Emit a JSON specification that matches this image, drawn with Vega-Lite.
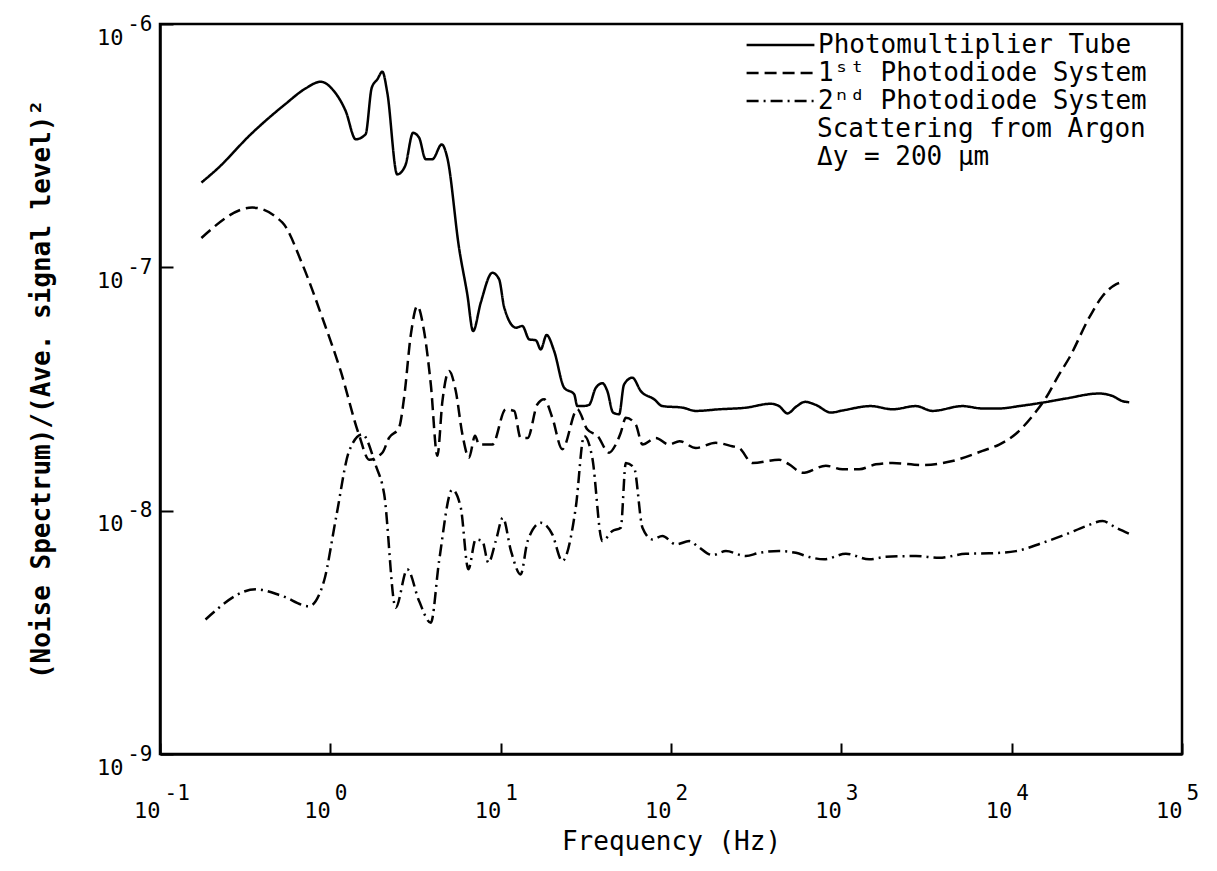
{
"$schema": "https://vega.github.io/schema/vega-lite/v6.json",
"width": 1022, "height": 730,
"autosize": "none",
"padding": {"left": 160, "top": 24, "right": 35, "bottom": 117},
"background": "white",
"config": {
  "font": "DejaVu Sans Mono",
  "view": {"stroke": "black", "strokeWidth": 2.5},
  "axis": {"domainColor": "black", "domainWidth": 2.5, "tickColor": "black", "tickWidth": 2, "labelColor": "black", "titleColor": "black", "grid": false, "labelFont": "DejaVu Sans Mono", "titleFont": "DejaVu Sans Mono", "titleFontWeight": "normal", "labelOverlap": false, "labelFlush": false, "labelBound": false}
},
"datasets": {
"spectra": [
{"series":"Photomultiplier Tube","f":0.175,"v":2.23e-7},
{"series":"Photomultiplier Tube","f":0.217,"v":2.54e-7},
{"series":"Photomultiplier Tube","f":0.341,"v":3.52e-7},
{"series":"Photomultiplier Tube","f":0.547,"v":4.70e-7},
{"series":"Photomultiplier Tube","f":0.717,"v":5.44e-7},
{"series":"Photomultiplier Tube","f":0.878,"v":5.79e-7},
{"series":"Photomultiplier Tube","f":1.05,"v":5.30e-7},
{"series":"Photomultiplier Tube","f":1.23,"v":4.39e-7},
{"series":"Photomultiplier Tube","f":1.41,"v":3.36e-7},
{"series":"Photomultiplier Tube","f":1.61,"v":3.52e-7},
{"series":"Photomultiplier Tube","f":1.75,"v":5.47e-7},
{"series":"Photomultiplier Tube","f":1.89,"v":5.93e-7},
{"series":"Photomultiplier Tube","f":2.02,"v":6.37e-7},
{"series":"Photomultiplier Tube","f":2.16,"v":5.22e-7},
{"series":"Photomultiplier Tube","f":2.47,"v":2.41e-7},
{"series":"Photomultiplier Tube","f":2.75,"v":2.61e-7},
{"series":"Photomultiplier Tube","f":3.06,"v":3.57e-7},
{"series":"Photomultiplier Tube","f":3.32,"v":3.41e-7},
{"series":"Photomultiplier Tube","f":3.63,"v":2.78e-7},
{"series":"Photomultiplier Tube","f":3.97,"v":2.78e-7},
{"series":"Photomultiplier Tube","f":4.51,"v":3.20e-7},
{"series":"Photomultiplier Tube","f":4.86,"v":2.82e-7},
{"series":"Photomultiplier Tube","f":5.70,"v":1.20e-7},
{"series":"Photomultiplier Tube","f":6.37,"v":7.74e-8},
{"series":"Photomultiplier Tube","f":6.89,"v":5.47e-8},
{"series":"Photomultiplier Tube","f":7.64,"v":7.16e-8},
{"series":"Photomultiplier Tube","f":8.94,"v":9.50e-8},
{"series":"Photomultiplier Tube","f":9.79,"v":8.93e-8},
{"series":"Photomultiplier Tube","f":10.5,"v":6.82e-8},
{"series":"Photomultiplier Tube","f":12.3,"v":5.65e-8},
{"series":"Photomultiplier Tube","f":13.4,"v":5.74e-8},
{"series":"Photomultiplier Tube","f":14.7,"v":5.06e-8},
{"series":"Photomultiplier Tube","f":16.1,"v":5.01e-8},
{"series":"Photomultiplier Tube","f":17.2,"v":4.60e-8},
{"series":"Photomultiplier Tube","f":18.6,"v":5.27e-8},
{"series":"Photomultiplier Tube","f":20.6,"v":4.53e-8},
{"series":"Photomultiplier Tube","f":23.6,"v":3.20e-8},
{"series":"Photomultiplier Tube","f":27.0,"v":3.01e-8},
{"series":"Photomultiplier Tube","f":28.2,"v":2.69e-8},
{"series":"Photomultiplier Tube","f":30.2,"v":2.69e-8},
{"series":"Photomultiplier Tube","f":33.0,"v":2.72e-8},
{"series":"Photomultiplier Tube","f":36.2,"v":3.20e-8},
{"series":"Photomultiplier Tube","f":39.5,"v":3.34e-8},
{"series":"Photomultiplier Tube","f":42.3,"v":3.10e-8},
{"series":"Photomultiplier Tube","f":45.7,"v":2.53e-8},
{"series":"Photomultiplier Tube","f":49.6,"v":2.49e-8},
{"series":"Photomultiplier Tube","f":53.0,"v":3.30e-8},
{"series":"Photomultiplier Tube","f":59.3,"v":3.52e-8},
{"series":"Photomultiplier Tube","f":66.5,"v":3.10e-8},
{"series":"Photomultiplier Tube","f":79.6,"v":2.87e-8},
{"series":"Photomultiplier Tube","f":89.0,"v":2.69e-8},
{"series":"Photomultiplier Tube","f":117,"v":2.65e-8},
{"series":"Photomultiplier Tube","f":140,"v":2.57e-8},
{"series":"Photomultiplier Tube","f":192,"v":2.61e-8},
{"series":"Photomultiplier Tube","f":275,"v":2.65e-8},
{"series":"Photomultiplier Tube","f":385,"v":2.75e-8},
{"series":"Photomultiplier Tube","f":431,"v":2.69e-8},
{"series":"Photomultiplier Tube","f":483,"v":2.51e-8},
{"series":"Photomultiplier Tube","f":541,"v":2.67e-8},
{"series":"Photomultiplier Tube","f":613,"v":2.80e-8},
{"series":"Photomultiplier Tube","f":709,"v":2.72e-8},
{"series":"Photomultiplier Tube","f":868,"v":2.53e-8},
{"series":"Photomultiplier Tube","f":1015,"v":2.58e-8},
{"series":"Photomultiplier Tube","f":1490,"v":2.69e-8},
{"series":"Photomultiplier Tube","f":1995,"v":2.61e-8},
{"series":"Photomultiplier Tube","f":2740,"v":2.69e-8},
{"series":"Photomultiplier Tube","f":3430,"v":2.57e-8},
{"series":"Photomultiplier Tube","f":5140,"v":2.69e-8},
{"series":"Photomultiplier Tube","f":6740,"v":2.63e-8},
{"series":"Photomultiplier Tube","f":8450,"v":2.63e-8},
{"series":"Photomultiplier Tube","f":11070,"v":2.69e-8},
{"series":"Photomultiplier Tube","f":15200,"v":2.78e-8},
{"series":"Photomultiplier Tube","f":20800,"v":2.89e-8},
{"series":"Photomultiplier Tube","f":32600,"v":3.03e-8},
{"series":"Photomultiplier Tube","f":39100,"v":2.96e-8},
{"series":"Photomultiplier Tube","f":44700,"v":2.82e-8},
{"series":"Photomultiplier Tube","f":49000,"v":2.79e-8},
{"series":"1ˢᵗ Photodiode System","f":0.175,"v":1.32e-7},
{"series":"1ˢᵗ Photodiode System","f":0.348,"v":1.76e-7},
{"series":"1ˢᵗ Photodiode System","f":0.522,"v":1.53e-7},
{"series":"1ˢᵗ Photodiode System","f":0.685,"v":1.03e-7},
{"series":"1ˢᵗ Photodiode System","f":0.897,"v":6.21e-8},
{"series":"1ˢᵗ Photodiode System","f":1.15,"v":3.75e-8},
{"series":"1ˢᵗ Photodiode System","f":1.47,"v":2.06e-8},
{"series":"1ˢᵗ Photodiode System","f":1.69,"v":1.62e-8},
{"series":"1ˢᵗ Photodiode System","f":2.02,"v":1.73e-8},
{"series":"1ˢᵗ Photodiode System","f":2.21,"v":1.99e-8},
{"series":"1ˢᵗ Photodiode System","f":2.53,"v":2.19e-8},
{"series":"1ˢᵗ Photodiode System","f":2.71,"v":2.91e-8},
{"series":"1ˢᵗ Photodiode System","f":2.97,"v":5.30e-8},
{"series":"1ˢᵗ Photodiode System","f":3.24,"v":6.93e-8},
{"series":"1ˢᵗ Photodiode System","f":3.55,"v":5.47e-8},
{"series":"1ˢᵗ Photodiode System","f":3.89,"v":3.30e-8},
{"series":"1ˢᵗ Photodiode System","f":4.25,"v":1.68e-8},
{"series":"1ˢᵗ Photodiode System","f":4.55,"v":2.82e-8},
{"series":"1ˢᵗ Photodiode System","f":4.98,"v":3.75e-8},
{"series":"1ˢᵗ Photodiode System","f":5.45,"v":3.10e-8},
{"series":"1ˢᵗ Photodiode System","f":5.96,"v":2.06e-8},
{"series":"1ˢᵗ Photodiode System","f":6.52,"v":1.65e-8},
{"series":"1ˢᵗ Photodiode System","f":7.07,"v":2.03e-8},
{"series":"1ˢᵗ Photodiode System","f":7.47,"v":1.87e-8},
{"series":"1ˢᵗ Photodiode System","f":8.94,"v":1.87e-8},
{"series":"1ˢᵗ Photodiode System","f":10.7,"v":2.61e-8},
{"series":"1ˢᵗ Photodiode System","f":12.0,"v":2.57e-8},
{"series":"1ˢᵗ Photodiode System","f":13.1,"v":1.99e-8},
{"series":"1ˢᵗ Photodiode System","f":14.4,"v":1.99e-8},
{"series":"1ˢᵗ Photodiode System","f":16.4,"v":2.73e-8},
{"series":"1ˢᵗ Photodiode System","f":18.0,"v":2.87e-8},
{"series":"1ˢᵗ Photodiode System","f":20.1,"v":2.41e-8},
{"series":"1ˢᵗ Photodiode System","f":23.0,"v":1.79e-8},
{"series":"1ˢᵗ Photodiode System","f":28.2,"v":2.61e-8},
{"series":"1ˢᵗ Photodiode System","f":32.2,"v":2.16e-8},
{"series":"1ˢᵗ Photodiode System","f":37.0,"v":2.03e-8},
{"series":"1ˢᵗ Photodiode System","f":43.3,"v":1.73e-8},
{"series":"1ˢᵗ Photodiode System","f":47.4,"v":1.87e-8},
{"series":"1ˢᵗ Photodiode System","f":50.7,"v":2.09e-8},
{"series":"1ˢᵗ Photodiode System","f":54.3,"v":2.41e-8},
{"series":"1ˢᵗ Photodiode System","f":62.1,"v":2.26e-8},
{"series":"1ˢᵗ Photodiode System","f":68.0,"v":1.87e-8},
{"series":"1ˢᵗ Photodiode System","f":81.4,"v":1.99e-8},
{"series":"1ˢᵗ Photodiode System","f":97.4,"v":1.87e-8},
{"series":"1ˢᵗ Photodiode System","f":112,"v":1.93e-8},
{"series":"1ˢᵗ Photodiode System","f":140,"v":1.81e-8},
{"series":"1ˢᵗ Photodiode System","f":183,"v":1.90e-8},
{"series":"1ˢᵗ Photodiode System","f":229,"v":1.84e-8},
{"series":"1ˢᵗ Photodiode System","f":251,"v":1.81e-8},
{"series":"1ˢᵗ Photodiode System","f":301,"v":1.57e-8},
{"series":"1ˢᵗ Photodiode System","f":431,"v":1.62e-8},
{"series":"1ˢᵗ Photodiode System","f":494,"v":1.55e-8},
{"series":"1ˢᵗ Photodiode System","f":591,"v":1.43e-8},
{"series":"1ˢᵗ Photodiode System","f":811,"v":1.53e-8},
{"series":"1ˢᵗ Photodiode System","f":1015,"v":1.48e-8},
{"series":"1ˢᵗ Photodiode System","f":1272,"v":1.48e-8},
{"series":"1ˢᵗ Photodiode System","f":1594,"v":1.55e-8},
{"series":"1ˢᵗ Photodiode System","f":1995,"v":1.57e-8},
{"series":"1ˢᵗ Photodiode System","f":2993,"v":1.54e-8},
{"series":"1ˢᵗ Photodiode System","f":4490,"v":1.60e-8},
{"series":"1ˢᵗ Photodiode System","f":6740,"v":1.76e-8},
{"series":"1ˢᵗ Photodiode System","f":8450,"v":1.87e-8},
{"series":"1ˢᵗ Photodiode System","f":10600,"v":2.07e-8},
{"series":"1ˢᵗ Photodiode System","f":13250,"v":2.45e-8},
{"series":"1ˢᵗ Photodiode System","f":15900,"v":2.91e-8},
{"series":"1ˢᵗ Photodiode System","f":19000,"v":3.63e-8},
{"series":"1ˢᵗ Photodiode System","f":21800,"v":4.25e-8},
{"series":"1ˢᵗ Photodiode System","f":28500,"v":6.21e-8},
{"series":"1ˢᵗ Photodiode System","f":34200,"v":7.62e-8},
{"series":"1ˢᵗ Photodiode System","f":40900,"v":8.51e-8},
{"series":"1ˢᵗ Photodiode System","f":45800,"v":8.73e-8},
{"series":"2ⁿᵈ Photodiode System","f":0.185,"v":3.57e-9},
{"series":"2ⁿᵈ Photodiode System","f":0.365,"v":4.75e-9},
{"series":"2ⁿᵈ Photodiode System","f":0.522,"v":4.46e-9},
{"series":"2ⁿᵈ Photodiode System","f":0.750,"v":4.05e-9},
{"series":"2ⁿᵈ Photodiode System","f":0.918,"v":5.14e-9},
{"series":"2ⁿᵈ Photodiode System","f":1.08,"v":9.35e-9},
{"series":"2ⁿᵈ Photodiode System","f":1.29,"v":1.76e-8},
{"series":"2ⁿᵈ Photodiode System","f":1.54,"v":2.06e-8},
{"series":"2ⁿᵈ Photodiode System","f":1.85,"v":1.53e-8},
{"series":"2ⁿᵈ Photodiode System","f":2.07,"v":1.17e-8},
{"series":"2ⁿᵈ Photodiode System","f":2.42,"v":3.99e-9},
{"series":"2ⁿᵈ Photodiode System","f":2.83,"v":5.74e-9},
{"series":"2ⁿᵈ Photodiode System","f":3.32,"v":4.25e-9},
{"series":"2ⁿᵈ Photodiode System","f":3.89,"v":3.46e-9},
{"series":"2ⁿᵈ Photodiode System","f":4.35,"v":6.21e-9},
{"series":"2ⁿᵈ Photodiode System","f":5.20,"v":1.22e-8},
{"series":"2ⁿᵈ Photodiode System","f":5.83,"v":1.03e-8},
{"series":"2ⁿᵈ Photodiode System","f":6.46,"v":5.74e-9},
{"series":"2ⁿᵈ Photodiode System","f":7.14,"v":7.62e-9},
{"series":"2ⁿᵈ Photodiode System","f":7.81,"v":7.50e-9},
{"series":"2ⁿᵈ Photodiode System","f":8.47,"v":6.11e-9},
{"series":"2ⁿᵈ Photodiode System","f":9.36,"v":7.50e-9},
{"series":"2ⁿᵈ Photodiode System","f":10.3,"v":9.35e-9},
{"series":"2ⁿᵈ Photodiode System","f":11.5,"v":6.82e-9},
{"series":"2ⁿᵈ Photodiode System","f":13.1,"v":5.47e-9},
{"series":"2ⁿᵈ Photodiode System","f":14.4,"v":7.50e-9},
{"series":"2ⁿᵈ Photodiode System","f":17.2,"v":8.92e-9},
{"series":"2ⁿᵈ Photodiode System","f":20.1,"v":7.99e-9},
{"series":"2ⁿᵈ Photodiode System","f":23.0,"v":6.21e-9},
{"series":"2ⁿᵈ Photodiode System","f":27.6,"v":1.03e-8},
{"series":"2ⁿᵈ Photodiode System","f":30.9,"v":2.03e-8},
{"series":"2ⁿᵈ Photodiode System","f":34.5,"v":1.65e-8},
{"series":"2ⁿᵈ Photodiode System","f":39.5,"v":7.50e-9},
{"series":"2ⁿᵈ Photodiode System","f":45.3,"v":8.25e-9},
{"series":"2ⁿᵈ Photodiode System","f":50.7,"v":8.51e-9},
{"series":"2ⁿᵈ Photodiode System","f":54.3,"v":1.57e-8},
{"series":"2ⁿᵈ Photodiode System","f":60.7,"v":1.50e-8},
{"series":"2ⁿᵈ Photodiode System","f":68.0,"v":8.51e-9},
{"series":"2ⁿᵈ Photodiode System","f":77.8,"v":7.62e-9},
{"series":"2ⁿᵈ Photodiode System","f":89.0,"v":7.86e-9},
{"series":"2ⁿᵈ Photodiode System","f":107,"v":7.27e-9},
{"series":"2ⁿᵈ Photodiode System","f":128,"v":7.50e-9},
{"series":"2ⁿᵈ Photodiode System","f":143,"v":7.15e-9},
{"series":"2ⁿᵈ Photodiode System","f":175,"v":6.57e-9},
{"series":"2ⁿᵈ Photodiode System","f":210,"v":6.82e-9},
{"series":"2ⁿᵈ Photodiode System","f":275,"v":6.51e-9},
{"series":"2ⁿᵈ Photodiode System","f":329,"v":6.71e-9},
{"series":"2ⁿᵈ Photodiode System","f":431,"v":6.82e-9},
{"series":"2ⁿᵈ Photodiode System","f":541,"v":6.71e-9},
{"series":"2ⁿᵈ Photodiode System","f":647,"v":6.45e-9},
{"series":"2ⁿᵈ Photodiode System","f":792,"v":6.31e-9},
{"series":"2ⁿᵈ Photodiode System","f":1063,"v":6.65e-9},
{"series":"2ⁿᵈ Photodiode System","f":1457,"v":6.31e-9},
{"series":"2ⁿᵈ Photodiode System","f":1825,"v":6.46e-9},
{"series":"2ⁿᵈ Photodiode System","f":2740,"v":6.51e-9},
{"series":"2ⁿᵈ Photodiode System","f":3750,"v":6.40e-9},
{"series":"2ⁿᵈ Photodiode System","f":5380,"v":6.65e-9},
{"series":"2ⁿᵈ Photodiode System","f":7380,"v":6.68e-9},
{"series":"2ⁿᵈ Photodiode System","f":10600,"v":6.82e-9},
{"series":"2ⁿᵈ Photodiode System","f":15200,"v":7.38e-9},
{"series":"2ⁿᵈ Photodiode System","f":20800,"v":7.99e-9},
{"series":"2ⁿᵈ Photodiode System","f":27300,"v":8.64e-9},
{"series":"2ⁿᵈ Photodiode System","f":34200,"v":9.06e-9},
{"series":"2ⁿᵈ Photodiode System","f":40900,"v":8.51e-9},
{"series":"2ⁿᵈ Photodiode System","f":49000,"v":8.04e-9}
]
},
"layer": [
  {
    "data": {"name": "spectra"},
    "mark": {"type": "line", "color": "black", "strokeWidth": 2.5, "interpolate": "monotone"},
    "encoding": {
      "x": {"field": "f", "type": "quantitative", "scale": {"type": "log", "domain": [0.1, 100000]},
            "axis": {"values": [0.1, 1, 10, 100, 1000, 10000, 100000], "labelExpr": "'10'", "labelFontSize": 22, "labelAlign": "right", "labelBaseline": "middle", "labelPadding": 56, "ticks": false, "domain": true, "title": "Frequency (Hz)", "titleFontSize": 26, "titlePadding": 7}},
      "y": {"field": "v", "type": "quantitative", "scale": {"type": "log", "domain": [1e-9, 1e-6]},
            "axis": {"values": [1e-9, 1e-8, 1e-7, 1e-6], "labelExpr": "'10'", "labelFontSize": 22, "labelAlign": "right", "labelBaseline": "middle", "labelPadding": 37, "labelOffset": 13, "ticks": false, "domain": true, "title": "(Noise Spectrum)/(Ave. signal level)²", "titleFontSize": 26, "titleFontWeight": "bold", "titlePadding": 42}},
      "strokeDash": {"field": "series", "type": "nominal",
            "scale": {"domain": ["Photomultiplier Tube", "1ˢᵗ Photodiode System", "2ⁿᵈ Photodiode System"], "range": [[1, 0], [12, 6], [12, 5, 2, 5]]},
            "legend": {"orient": "none", "legendX": 585, "legendY": 7, "title": null, "padding": 0, "symbolType": "stroke", "symbolSize": 4600, "symbolStrokeWidth": 2.5, "symbolStrokeColor": "black", "labelFont": "DejaVu Sans Mono", "labelFontSize": 26, "labelColor": "black", "labelOffset": 2, "clipHeight": 28, "rowPadding": 0, "labelLimit": 600}}
    }
  },
  {
    "data": {"name": "spectra"},
    "mark": {"type": "point", "opacity": 0},
    "encoding": {
      "x": {"field": "f", "type": "quantitative", "scale": {"type": "log", "domain": [0.1, 100000]},
            "axis": {"orient": "bottom", "values": [0.1, 1, 10, 100, 1000, 10000, 100000], "labelExpr": "'' + round(log(datum.value)/LN10)", "labelFontSize": 21, "labelAlign": "left", "labelBaseline": "middle", "labelPadding": 50, "labelOffset": 4, "ticks": true, "tickSize": -11, "domain": false, "title": null}},
      "y": {"field": "v", "type": "quantitative", "scale": {"type": "log", "domain": [1e-9, 1e-6]},
            "axis": {"orient": "left", "values": [1e-9, 1e-8, 1e-7, 1e-6], "labelExpr": "'' + round(log(datum.value)/LN10)", "labelFontSize": 21, "labelAlign": "right", "labelBaseline": "middle", "labelPadding": 21, "ticks": true, "tickSize": -13, "domain": false, "title": null}}
    }
  },
  {
    "data": {"values": [{"note": "annotation"}]},
    "mark": {"type": "text", "align": "left", "baseline": "alphabetic", "fontSize": 26, "lineHeight": 28, "font": "DejaVu Sans Mono", "color": "black"},
    "encoding": {
      "x": {"datum": 720, "type": "quantitative", "axis": null},
      "y": {"datum": 3.43e-7, "type": "quantitative", "axis": null},
      "text": {"value": ["Scattering from Argon", "Δy = 200 μm"]}
    }
  }
],
"resolve": {"axis": {"x": "independent", "y": "independent"}}
}
